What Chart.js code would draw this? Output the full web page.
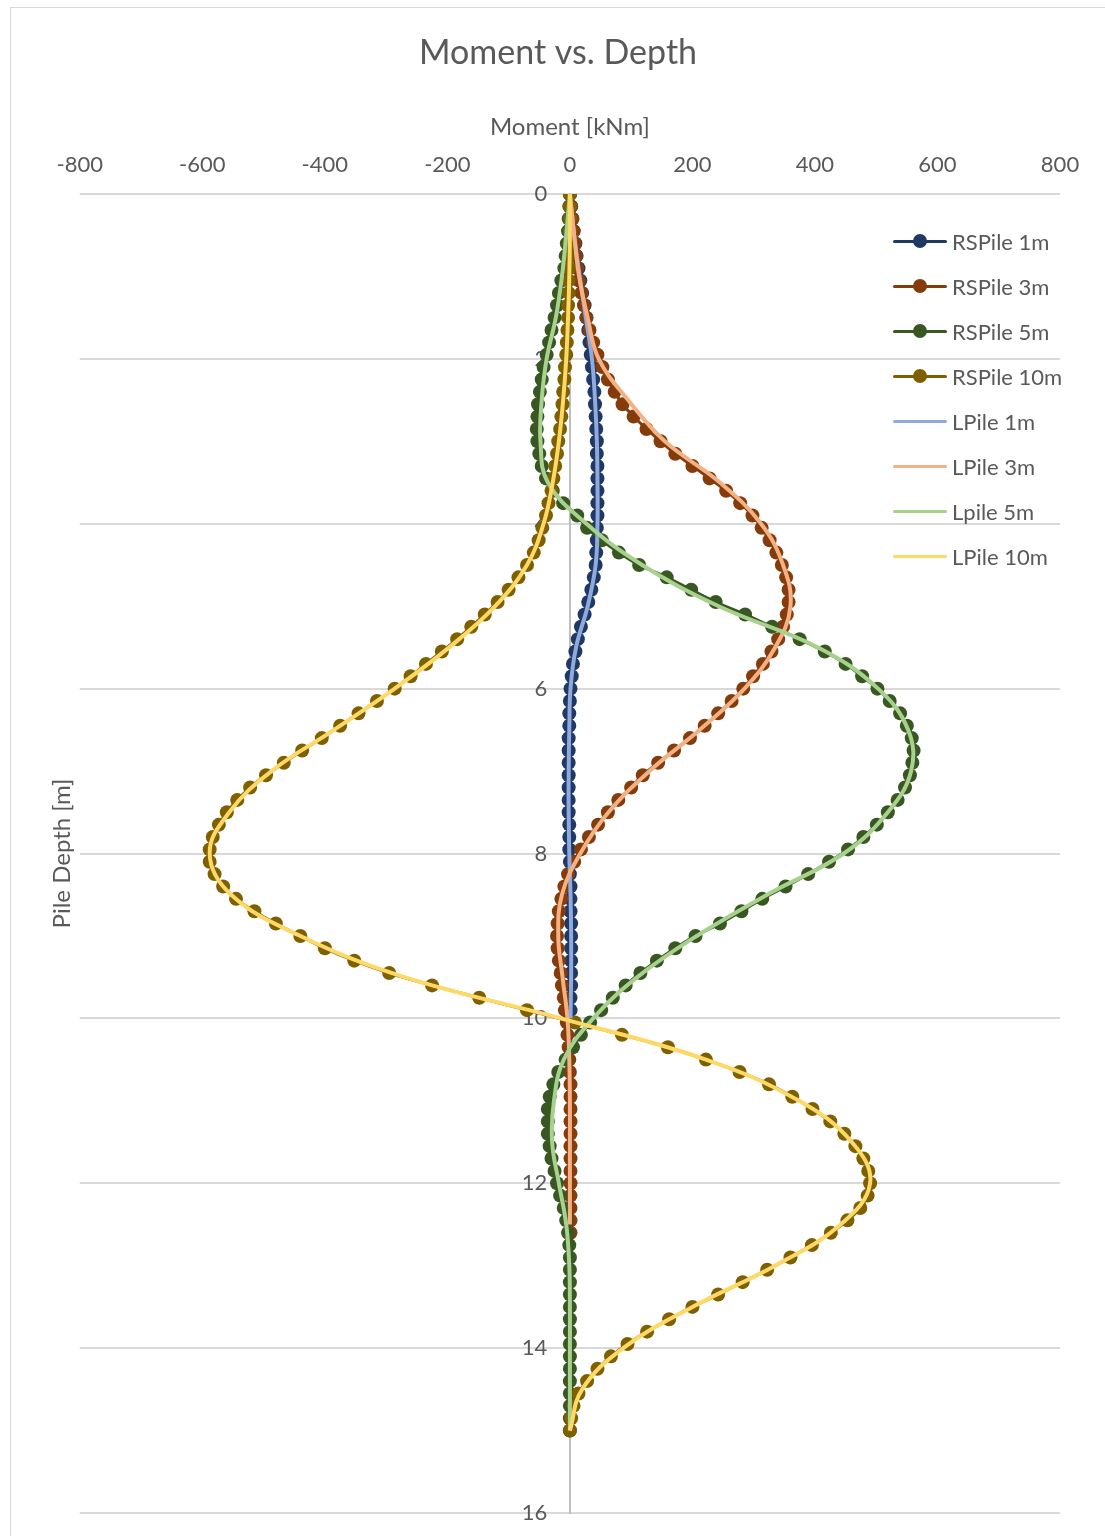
<!DOCTYPE html>
<html>
<head>
<meta charset="utf-8">
<title>Moment vs. Depth</title>
<script src="https://cdn.jsdelivr.net/npm/chart.js@4.4.1/dist/chart.umd.min.js"></script>
<style>
  html, body { margin: 0; padding: 0; background: #fff; }
  #wrap { position: relative; width: 1105px; height: 1536px; overflow: hidden; }
  #frame { position: absolute; left: 10px; top: 7px; width: 1200px; height: 1600px;
           border-left: 1px solid #d9d9d9; border-top: 1px solid #d9d9d9; box-sizing: border-box; }
  #chart { position: absolute; left: 0; top: 0; }
  #legend { position: absolute; left: 893px; top: 0; font-family: Lato, sans-serif; font-size: 22px; color: #595959; }
  .item { position: absolute; left: 0; height: 30px; display: flex; align-items: center; white-space: nowrap; }
  .swatch { position: relative; width: 54px; height: 30px; margin-right: 5px; }
  .swatch .ln { position: absolute; left: 0; right: 0; top: 50%; height: 3px; margin-top: -1.5px; border-radius: 1.5px; }
  .swatch .dot { position: absolute; left: 50%; top: 50%; width: 14px; height: 14px; margin: -7px 0 0 -7px; border-radius: 50%; }
</style>
</head>
<body>
<div id="wrap">
  <div id="frame"></div>
  <canvas id="chart" width="1105" height="1536"></canvas>
  <div id="legend"></div>
</div>
<script>
// Depths of the RSPile output nodes [m]
const rsDepths = [0,0.15,0.3,0.45,0.6,0.75,0.9,1.05,1.2,1.35,1.5,1.65,1.8,1.95,2.1,2.25,2.4,2.55,2.7,2.85,
  3,3.15,3.3,3.45,3.6,3.75,3.9,4.05,4.2,4.35,4.5,4.65,4.8,4.95,5.1,5.25,5.4,5.55,5.7,5.85,
  6,6.15,6.3,6.45,6.6,6.75,6.9,7.05,7.2,7.35,7.5,7.65,7.8,7.95,8.1,8.25,8.4,8.55,8.7,8.85,
  9,9.15,9.3,9.45,9.6,9.75,9.9,10.05,10.2,10.35,10.5,10.65,10.8,10.95,11.1,11.25,11.4,11.55,11.7,11.85,
  12,12.15,12.3,12.45,12.6,12.75,12.9,13.05,13.2,13.35,13.5,13.65,13.8,13.95,14.1,14.25,14.4,14.55,14.7,14.85,15];

// Depths of the LPile output [m]
const lpDepths = [0,0.5,1,1.5,2,2.5,3,3.5,4,4.5,5,5.5,6,6.5,7,7.5,8,8.5,9,9.5,10,10.5,11,11.5,12,12.5,13,13.5,14,14.5,15];

// Bending moment [kNm], RSPile
const rsPile1m = [0,2,4,6,9,11,14,17,20,24,27,30,32,34,36,38,40,41,42,43,
  44,44,45,45,45,45,45,44,44,43,42,39,35,30,24,18,13,9,5,3,
  1,0,-1,-1,-2,-2,-2,-2,-2,-2,-2,-1,-1,-1,0,0,1,1,1,2,
  2,2,2,2,2,1,1];

const rsPile3m = [0,2,4,6,8,10,12,15,19,23,27,32,38,45,53,62,73,86,104,125,
  148,172,200,228,255,278,298,313,326,337,346,353,357,357,354,348,340,329,315,299,
  283,264,242,220,196,170,144,119,100,79,62,46,31,18,7,-3,-9,-14,-18,-20,
  -21,-20,-18,-15,-13,-10,-8,-5,-4,-2,-1,0,1,1,1,1,1,1,1,1,
  1,1,1,1,1];

const rsPile5m = [0,-1,-2,-3,-5,-7,-9,-14,-18,-21,-25,-30,-34,-38,-43,-46,-49,-52,-53,-54,
  -53,-50,-46,-39,-28,-11,12,28,52,80,113,158,198,238,286,330,375,416,450,477,
  502,522,539,550,558,561,559,555,547,535,519,501,479,454,423,389,352,314,280,245,
  205,172,142,115,91,70,51,33,18,5,-7,-19,-27,-33,-36,-36,-36,-33,-30,-25,
  -21,-16,-10,-6,-3,-1,0,0,0,0,0,0,0,0,0,0,0,0,0,0,0];

const rsPile10m = [0,0,0,0,-1,-1,-1,-2,-2,-3,-3,-4,-5,-6,-8,-9,-11,-12,-14,-16,
  -19,-21,-24,-27,-30,-35,-39,-45,-51,-59,-70,-84,-100,-118,-139,-161,-184,-209,-235,-260,
  -286,-315,-345,-375,-405,-437,-467,-496,-522,-543,-560,-573,-583,-588,-588,-580,-566,-545,-515,-480,
  -440,-400,-352,-295,-225,-148,-70,8,85,160,222,277,325,363,396,425,448,466,479,487,
  490,486,474,453,426,395,360,322,282,242,200,162,126,94,67,45,28,14,6,2,0];

// Bending moment [kNm], LPile
const lPile1m = [0,7,16,26,36,41,44,45,45,42,29,10,1,-1,-2,-2,-1,1,2,2,1];
const lPile3m = [0,7,15,29,47,95,155,245,312,348,360,335,285,212,130,63,17,-13,-19,-12,-4,-1,0,0,0,0];
const lPile5m = [0,-6,-13,-23,-38,-46,-48,-36,27,118,243,405,503,552,557,519,447,322,207,110,38,-10,-26,-29,-18,-6,-1,0,0,0,0];
const lPile10m = [0,0,-1,-3,-6,-11,-18,-28,-43,-70,-122,-197,-286,-385,-487,-556,-588,-553,-440,-270,-15,222,374,460,490,442,335,200,87,20,0];

// Axis ticks
const momentTicks = [-800,-600,-400,-200,0,200,400,600,800];
const depthTicks = [0,2,4,6,8,10,12,14,16];

Chart.defaults.font.family = 'Lato, sans-serif';
Chart.defaults.color = '#595959';

function profile(moments, depths) {
  return moments.map((m, i) => ({ x: m, y: depths[i] }));
}

function rsSeries(label, moments, color, order) {
  return {
    label, data: profile(moments, rsDepths), showLine: true, yAxisID: 'y',
    borderColor: color, backgroundColor: color, borderWidth: 3, tension: 0.4,
    pointRadius: 7, pointBackgroundColor: color, pointBorderWidth: 0, pointHoverRadius: 7,
    order
  };
}
function lpSeries(label, moments, color, order) {
  return {
    label, data: profile(moments, lpDepths), showLine: true, yAxisID: 'y',
    borderColor: color, backgroundColor: color, borderWidth: 4, tension: 0.4,
    pointRadius: 0, pointHoverRadius: 0, order
  };
}

const datasets = [
  rsSeries('RSPile 1m', rsPile1m, '#203864', 8),
  rsSeries('RSPile 3m', rsPile3m, '#843c0c', 7),
  rsSeries('RSPile 5m', rsPile5m, '#385723', 6),
  rsSeries('RSPile 10m', rsPile10m, '#7f6000', 5),
  lpSeries('LPile 1m', lPile1m, '#8faadc', 4),
  lpSeries('LPile 3m', lPile3m, '#f4b183', 3),
  lpSeries('Lpile 5m', lPile5m, '#a9d18e', 2),
  lpSeries('LPile 10m', lPile10m, '#ffd966', 1)
];

const depthRange = { min: depthTicks[0], max: depthTicks[depthTicks.length - 1] };
const setDepthTicks = s => { s.ticks = depthTicks.map(v => ({ value: v })); };

const chart = new Chart(document.getElementById('chart'), {
  type: 'scatter',
  data: { datasets },
  options: {
    responsive: false,
    animation: false,
    events: [],
    layout: { padding: { left: 11, top: 0, right: 0, bottom: 23 } },
    plugins: {
      legend: { display: false },
      tooltip: { enabled: false },
      title: {
        display: true, text: 'Moment vs. Depth', color: '#595959',
        font: { size: 34, weight: 'normal' }, padding: { top: 33, bottom: 0 }
      }
    },
    scales: {
      x: {
        type: 'linear', position: 'top',
        min: momentTicks[0], max: momentTicks[momentTicks.length - 1],
        afterBuildTicks: s => { s.ticks = momentTicks.map(v => ({ value: v })); },
        ticks: { color: '#595959', font: { size: 22 }, padding: 16 },
        grid: { display: false, drawTicks: false },
        border: { display: false },
        title: { display: true, text: 'Moment [kNm]', color: '#595959', font: { size: 24 }, padding: { top: 39, bottom: 0 } },
        afterFit: s => { s.height = 120.2; }
      },
      // depth axis: gridlines plus the vertical line through zero moment
      y: {
        type: 'linear', position: { x: 0 }, reverse: true, ...depthRange,
        afterBuildTicks: setDepthTicks,
        ticks: { display: false },
        grid: { color: '#d9d9d9', lineWidth: 2, drawTicks: false },
        border: { display: true, color: '#bfbfbf', width: 2 }
      },
      // depth tick labels, set just left of the zero line
      yLabels: {
        type: 'linear', axis: 'y', position: { x: -37 }, reverse: true, ...depthRange,
        afterBuildTicks: setDepthTicks,
        ticks: { color: '#595959', font: { size: 22 } },
        grid: { display: false, drawTicks: false },
        border: { display: false }
      },
      yTitle: {
        type: 'linear', axis: 'y', position: 'left', display: true,
        ticks: { display: false }, grid: { display: false, drawTicks: false }, border: { display: false },
        title: { display: true, text: 'Pile Depth [m]', color: '#595959', font: { size: 24 }, padding: { top: 37, bottom: 3 } }
      },
      yRight: {
        type: 'linear', axis: 'y', position: 'right', display: true,
        ticks: { display: false }, grid: { display: false, drawTicks: false }, border: { display: false },
        afterFit: s => { s.width = 45; }
      }
    }
  }
});

// Legend, one row per dataset
const legend = document.getElementById('legend');
chart.data.datasets.forEach((ds, i) => {
  const item = document.createElement('div');
  item.className = 'item';
  item.style.top = (241 + 45 * i - 15) + 'px';
  const sw = document.createElement('span');
  sw.className = 'swatch';
  const ln = document.createElement('span');
  ln.className = 'ln';
  ln.style.background = ds.borderColor;
  sw.appendChild(ln);
  if (ds.pointRadius > 0) {
    const dot = document.createElement('span');
    dot.className = 'dot';
    dot.style.background = ds.pointBackgroundColor;
    sw.appendChild(dot);
  }
  const txt = document.createElement('span');
  txt.textContent = ds.label;
  item.appendChild(sw);
  item.appendChild(txt);
  legend.appendChild(item);
});
</script>
</body>
</html>
